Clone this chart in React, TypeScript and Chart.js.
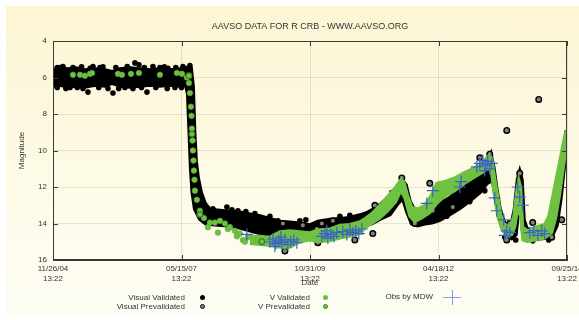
import React, { useEffect, useRef } from 'react';
import { Chart, registerables } from 'chart.js';

Chart.register(...registerables);

const FONT = '"Liberation Sans", Arial, Helvetica, sans-serif';
const TEXT = '#333333';
const GREEN = '#6fc142';
const BLUE = '#3a63c4';

const titleText = 'AAVSO DATA FOR R CRB - WWW.AAVSO.ORG';
const xAxisTitle = 'Date';
const yAxisTitle = 'Magnitude';
// x values: days after 11/26/04 13:22
const xTickDays = [0, 900, 1800, 2700, 3600];
const xTickLabels = [
  ['11/26/04', '13:22'],
  ['05/15/07', '13:22'],
  ['10/31/09', '13:22'],
  ['04/18/12', '13:22'],
  ['09/25/14', '13:22'],
];
const yTicks = [4, 6, 8, 10, 12, 14, 16];

type P = [number, number];

// dense visual band: bright edge and faint edge of the black cloud
const visualBright: P[] = [
  [0, 5.6], [49, 5.5], [105, 5.55], [161, 5.5], [224, 5.6], [294, 5.55], [364, 5.6], [413, 5.7],
  [469, 5.55], [539, 5.5], [609, 5.55], [679, 5.6], [749, 5.55], [819, 5.6], [889, 5.55], [945, 5.45],
  [966, 5.5], [980, 6.5], [990, 9.0], [1001, 10.6], [1015, 11.5], [1036, 12.3], [1064, 12.9], [1099, 13.25],
  [1169, 13.3], [1239, 13.35], [1309, 13.4], [1379, 13.5], [1449, 13.6], [1519, 13.75], [1589, 13.9],
  [1659, 13.95], [1729, 14.0], [1799, 14.1], [1855, 13.9], [1939, 13.8], [2009, 13.75], [2079, 13.7],
  [2149, 13.55], [2205, 13.4], [2275, 13.1], [2345, 12.6], [2401, 12.1], [2443, 11.6], [2471, 11.9],
  [2499, 12.8], [2534, 13.3], [2583, 13.2], [2639, 12.9], [2709, 12.9], [2779, 12.6], [2849, 12.1],
  [2919, 11.8], [2989, 11.3], [3038, 10.6], [3066, 10.2], [3087, 11.0], [3108, 12.2], [3129, 13.2],
  [3157, 13.9], [3185, 14.2], [3213, 14.0], [3234, 13.2], [3255, 11.6], [3269, 11.2], [3283, 11.6],
  [3297, 13.8], [3318, 14.3], [3374, 14.4], [3444, 14.3], [3479, 13.9], [3514, 12.8], [3549, 11.2],
  [3577, 9.8], [3598, 8.9],
];
const visualFaint: P[] = [
  [0, 6.45], [49, 6.4], [105, 6.5], [161, 6.45], [224, 6.5], [294, 6.4], [364, 6.45], [413, 6.3],
  [469, 6.45], [539, 6.5], [609, 6.45], [679, 6.4], [749, 6.45], [819, 6.4], [889, 6.45], [931, 6.4],
  [945, 6.9], [956, 9.0], [966, 11.0], [977, 12.3], [994, 13.2], [1029, 13.75], [1071, 14.0], [1134, 14.05],
  [1204, 14.1], [1274, 14.15], [1344, 14.3], [1414, 14.45], [1484, 14.6], [1554, 14.7], [1624, 14.7],
  [1694, 14.75], [1764, 14.6], [1834, 14.55], [1904, 14.6], [1974, 14.5], [2044, 14.45], [2114, 14.35],
  [2184, 14.1], [2233, 14.0], [2289, 13.75], [2359, 13.5], [2415, 12.9], [2450, 12.6], [2478, 13.3],
  [2513, 14.0], [2555, 14.1], [2604, 14.0], [2653, 13.95], [2709, 13.8], [2779, 13.5], [2849, 13.15],
  [2919, 12.75], [2989, 12.3], [3038, 11.8], [3080, 11.6], [3108, 13.0], [3143, 14.0], [3178, 14.6],
  [3213, 14.8], [3241, 14.6], [3262, 13.0], [3276, 12.6], [3290, 14.4], [3318, 14.8], [3374, 14.85],
  [3444, 14.8], [3493, 14.7], [3528, 14.1], [3556, 12.6], [3584, 10.5], [3598, 9.6],
];
// dense V band: bright edge and faint edge of the green cloud
const vBright: P[] = [
  [1379, 14.7], [1449, 14.7], [1519, 14.75], [1589, 14.45], [1659, 14.4], [1729, 14.45], [1799, 14.5],
  [1855, 14.35], [1939, 14.3], [2009, 14.1], [2079, 14.05], [2149, 13.9], [2191, 13.7], [2233, 13.45],
  [2289, 13.0], [2345, 12.5], [2401, 12.0], [2436, 11.6], [2457, 11.7], [2485, 12.5], [2513, 13.1],
  [2555, 13.2], [2604, 13.0], [2653, 12.4], [2688, 11.8], [2744, 11.7], [2814, 11.5], [2884, 11.2],
  [2954, 10.95], [3010, 10.6], [3052, 10.3], [3073, 10.4], [3094, 11.5], [3115, 12.5], [3136, 13.5],
  [3157, 14.0], [3199, 14.2], [3227, 13.6], [3248, 12.2], [3262, 11.6], [3276, 12.0], [3290, 14.2],
  [3325, 14.4], [3374, 14.2], [3444, 14.05], [3472, 13.6], [3500, 12.5], [3528, 11.4], [3556, 10.3],
  [3584, 9.2], [3598, 8.9],
];
const vFaint: P[] = [
  [1379, 15.1], [1449, 15.15], [1519, 15.2], [1589, 15.3], [1659, 15.3], [1729, 15.0], [1799, 14.9],
  [1855, 15.0], [1939, 14.95], [2009, 14.8], [2079, 14.7], [2149, 14.55], [2191, 14.2], [2233, 14.0],
  [2289, 13.7], [2345, 13.3], [2401, 12.8], [2436, 12.2], [2464, 12.6], [2499, 13.6], [2534, 13.9],
  [2583, 13.7], [2639, 13.4], [2688, 12.9], [2744, 12.5], [2814, 12.2], [2884, 11.8], [2954, 11.45],
  [3010, 11.2], [3052, 10.9], [3073, 11.3], [3094, 12.6], [3115, 13.6], [3143, 14.3], [3178, 14.7],
  [3213, 14.6], [3234, 14.2], [3255, 13.2], [3276, 13.6], [3290, 14.9], [3325, 15.0], [3374, 14.9],
  [3444, 14.8], [3493, 14.5], [3521, 13.7], [3549, 12.4], [3577, 10.8], [3598, 9.6],
];

const visualValidated: P[] = [
  [14, 6.3], [30, 5.45], [30, 6.55], [49, 5.45], [70, 5.4], [84, 5.7], [90, 6.6], [119, 6.55], [140, 5.45],
  [170, 6.55], [200, 5.42], [210, 6.6], [245, 6.8], [260, 5.5], [280, 5.4], [320, 6.55], [329, 5.45],
  [350, 5.42], [385, 6.6], [420, 6.85], [440, 5.45], [460, 6.6], [504, 6.55], [520, 5.4], [560, 6.6],
  [574, 5.2], [602, 5.3], [620, 6.55], [640, 5.45], [658, 6.8], [700, 5.4], [720, 6.55], [749, 5.45],
  [780, 5.42], [800, 6.6], [805, 5.5], [854, 6.55], [860, 5.45], [900, 6.55], [910, 5.4], [959, 5.35],
  [973, 7.5], [987, 10.0], [1008, 12.0], [1029, 13.0], [1120, 13.2],
  [1218, 13.1], [1253, 13.25], [1295, 13.3], [1351, 13.35], [1414, 13.45], [1463, 14.55], [1519, 13.6],
  [1575, 13.85], [1729, 13.85], [1771, 13.8], [2009, 13.6], [2079, 13.55], [2373, 12.3], [2758, 13.6],
  [2919, 12.8], [3024, 12.2], [3164, 14.75], [3241, 14.9], [3360, 14.95], [3472, 14.9],
];
const visualPrevalidated: P[] = [
  [1610, 14.0], [1624, 15.5], [1750, 14.1], [1848, 14.3], [1855, 15.05], [1883, 14.0], [1960, 13.85],
  [2114, 14.9], [2240, 14.55], [2254, 13.0], [2268, 13.45], [2289, 13.45], [2443, 11.5], [2520, 13.65],
  [2534, 14.0], [2639, 11.8], [2660, 13.3], [2800, 13.1], [2989, 10.4], [3059, 10.2], [3178, 8.9],
  [3178, 14.9], [3199, 14.0], [3269, 11.25], [3360, 13.95], [3402, 7.2], [3493, 14.75], [3563, 13.8],
];
const vValidated: P[] = [
  [140, 5.85], [189, 5.85], [224, 5.9], [259, 5.8], [273, 5.75], [455, 5.8], [483, 5.85], [546, 5.8],
  [602, 5.75], [749, 5.85], [868, 5.75], [903, 5.8], [938, 6.0], [952, 6.3], [959, 6.85], [966, 7.6],
  [970, 8.1], [973, 8.8], [977, 9.45], [980, 10.0], [984, 10.55], [987, 11.1], [991, 11.6], [994, 12.2],
  [1008, 12.7], [1029, 13.3], [1057, 13.7], [1085, 14.2], [1099, 13.95], [1134, 13.95], [1155, 14.5],
  [1169, 13.85], [1204, 14.0], [1225, 14.3], [1239, 14.2], [1274, 14.4], [1288, 14.7], [1309, 14.55],
  [1330, 14.9], [1344, 15.0], [1365, 14.75], [1435, 14.9],
];
const vPrevalidated: P[] = [[952, 5.9], [973, 9.1], [1029, 13.5], [1463, 15.0]];
const obsMDW: P[] = [
  [1358, 14.6],
  [1519, 15.0], [1540, 14.85], [1554, 15.25], [1561, 15.1], [1582, 14.95], [1596, 14.75], [1603, 15.05],
  [1624, 14.9], [1645, 15.15], [1666, 15.0], [1687, 14.9], [1708, 15.05],
  [1883, 14.7], [1904, 14.55], [1918, 14.4], [1925, 14.8], [1946, 14.6], [1967, 14.7], [1988, 14.5],
  [2030, 14.45], [2058, 14.6], [2079, 14.35], [2100, 14.5], [2121, 14.4], [2142, 14.55], [2163, 14.3],
  [2618, 12.9], [2660, 12.2], [2849, 12.0], [2859, 11.7],
  [2968, 10.9], [2989, 10.7], [3010, 10.55], [3024, 11.1], [3031, 10.8], [3045, 10.6], [3059, 11.0], [3073, 10.7],
  [3094, 12.6], [3108, 13.3], [3157, 13.8], [3164, 14.65], [3178, 14.4], [3199, 14.5],
  [3255, 12.0], [3269, 12.55], [3290, 13.0],
  [3339, 14.5], [3367, 14.4], [3395, 14.65], [3423, 14.4], [3444, 14.55],
];

const pts = (a: P[]) => a.map(([x, y]) => ({ x, y }));

const framePlugin = {
  id: 'frame',
  afterDatasetsDraw(chart: any) {
    const { ctx, chartArea: a, scales } = chart;
    const x = scales.x;
    const y = scales.y;
    ctx.save();
    ctx.strokeStyle = '#3a3a3a';
    ctx.lineWidth = 1;
    ctx.strokeRect(Math.round(a.left) + 0.5, Math.round(a.top) + 0.5, Math.round(a.right - a.left) - 1, Math.round(a.bottom - a.top) - 1);
    ctx.beginPath();
    for (const d of xTickDays) {
      const px = Math.round(x.getPixelForValue(d)) + 0.5;
      ctx.moveTo(px, a.bottom); ctx.lineTo(px, a.bottom - 5);
      ctx.moveTo(px, a.top); ctx.lineTo(px, a.top + 5);
    }
    for (const m of yTicks) {
      const py = Math.round(y.getPixelForValue(m)) + 0.5;
      ctx.moveTo(a.left, py); ctx.lineTo(a.left + 5, py);
      ctx.moveTo(a.right, py); ctx.lineTo(a.right - 5, py);
    }
    ctx.stroke();
    ctx.restore();
  },
};

const legendRows = [
  { label: 'Visual Validated', right: 185, top: 293, marker: 'black' },
  { label: 'Visual Prevalidated', right: 185, top: 302, marker: 'blackRing' },
  { label: 'V Validated', right: 310, top: 293, marker: 'green' },
  { label: 'V Prevalidated', right: 310, top: 302, marker: 'greenRing' },
  { label: 'Obs by MDW', right: 433, top: 292, marker: 'cross' },
];

function Marker({ kind, x, y }: { kind: string; x: number; y: number }) {
  if (kind === 'cross') {
    return (
      <>
        <div style={{ position: 'absolute', left: x - 9, top: y, width: 18, height: 1, background: '#7d9be0' }} />
        <div style={{ position: 'absolute', left: x, top: y - 7, width: 1, height: 15, background: '#7d9be0' }} />
      </>
    );
  }
  const green = kind.startsWith('green');
  const ring = kind.endsWith('Ring');
  return (
    <div
      style={{
        position: 'absolute', left: x - 2.5, top: y - 2.5, width: 5, height: 5, borderRadius: '50%', boxSizing: 'border-box',
        background: ring ? (green ? GREEN : '#888') : (green ? GREEN : '#000'),
        border: ring ? `1.3px solid ${green ? '#3f7d25' : '#000'}` : 'none',
      }}
    />
  );
}

export default function App() {
  const ref = useRef<HTMLCanvasElement>(null);

  useEffect(() => {
    if (!ref.current) return;
    Chart.defaults.font.family = FONT;
    const grid = { color: 'rgba(150,140,110,0.22)', drawTicks: false, lineWidth: 1 };
    const chart = new Chart(ref.current, {
      type: 'line',
      data: {
        datasets: [
          { label: 'Obs by MDW', data: pts(obsMDW), showLine: false, pointStyle: 'cross', pointRadius: 6, borderColor: BLUE, backgroundColor: BLUE, borderWidth: 1.2, order: 0 },
          { label: 'V Prevalidated', data: pts(vPrevalidated), showLine: false, pointRadius: 2.8, backgroundColor: GREEN, borderColor: '#3f7d25', borderWidth: 1.2, order: 1 },
          { label: 'V Validated', data: pts(vValidated), showLine: false, pointRadius: 2.8, backgroundColor: GREEN, borderColor: '#5ea935', borderWidth: 0.6, order: 2 },
          { label: 'V band bright', data: pts(vBright), pointRadius: 0, borderColor: GREEN, backgroundColor: GREEN, borderWidth: 3, fill: '+1', order: 3 },
          { label: 'V band faint', data: pts(vFaint), pointRadius: 0, borderColor: GREEN, backgroundColor: GREEN, borderWidth: 3, fill: false, order: 3 },
          { label: 'Visual Prevalidated', data: pts(visualPrevalidated), showLine: false, pointRadius: 2.8, backgroundColor: '#808080', borderColor: '#000', borderWidth: 1.4, order: 4 },
          { label: 'Visual Validated', data: pts(visualValidated), showLine: false, pointRadius: 2.8, backgroundColor: '#000', borderColor: '#000', borderWidth: 0, order: 5 },
          { label: 'Visual band bright', data: pts(visualBright), pointRadius: 0, borderColor: '#000', backgroundColor: '#000', borderWidth: 4, fill: '+1', order: 6 },
          { label: 'Visual band faint', data: pts(visualFaint), pointRadius: 0, borderColor: '#000', backgroundColor: '#000', borderWidth: 4, fill: false, order: 6 },
        ] as any,
      },
      options: {
        animation: false,
        responsive: false,
        events: [],
        layout: { padding: { left: 0, top: 0, right: 12, bottom: 31 } },
        plugins: {
          legend: { display: false },
          tooltip: { enabled: false },
          title: {
            display: true, text: titleText, fullSize: false, color: TEXT,
            font: { size: 9, weight: 'normal', family: FONT, lineHeight: 1.2 },
            padding: { top: 21, bottom: 9.2 },
          },
        },
        scales: {
          x: {
            type: 'linear', min: 0, max: 3600,
            ticks: {
              stepSize: 900, autoSkip: false, maxRotation: 0, minRotation: 0, padding: 4, color: TEXT,
              font: { size: 8, lineHeight: 1.2 },
              callback: (v: any) => { const i = xTickDays.indexOf(Number(v)); return i >= 0 ? xTickLabels[i] : ''; },
            },
            grid,
            border: { color: '#333', width: 1 },
            title: { display: true, text: xAxisTitle, color: TEXT, font: { size: 8, lineHeight: 1.2 }, padding: { top: 0, bottom: 1 } },
            afterFit: (s: any) => { s.height = 29; s.paddingLeft = 0; s.paddingRight = 0; },
          },
          y: {
            type: 'linear', reverse: true, min: 4, max: 16,
            ticks: { stepSize: 2, padding: 6, color: TEXT, font: { size: 8 } },
            grid,
            border: { color: '#333', width: 1 },
            title: { display: true, text: yAxisTitle, color: TEXT, font: { size: 8, lineHeight: 1.2 }, padding: { top: 17, bottom: 0 } },
            afterFit: (s: any) => { s.width = 53; s.paddingTop = 0; s.paddingBottom = 0; },
          },
        },
      } as any,
      plugins: [framePlugin],
    });
    return () => chart.destroy();
  }, []);

  return (
    <div style={{ position: 'fixed', left: 0, top: 0, width: 579, height: 320, background: '#fff', overflow: 'hidden', fontFamily: FONT }}>
      <div style={{ position: 'absolute', left: 6, top: 6, right: 0, bottom: 4, background: 'linear-gradient(#fcf6d4, #fefdf4)' }} />
      <canvas ref={ref} width={579} height={320} style={{ position: 'absolute', left: 0, top: 0, width: 579, height: 320 }} />
      {legendRows.map((r) => (
        <React.Fragment key={r.label}>
          <div style={{ position: 'absolute', right: 579 - r.right, top: r.top, fontSize: 8, lineHeight: '9px', color: TEXT, whiteSpace: 'nowrap' }}>{r.label}</div>
          {r.marker === 'cross'
            ? <Marker kind="cross" x={452} y={r.top + 5} />
            : <Marker kind={r.marker} x={r.right < 200 ? 202 : 325} y={r.top + 4.5} />}
        </React.Fragment>
      ))}
    </div>
  );
}
